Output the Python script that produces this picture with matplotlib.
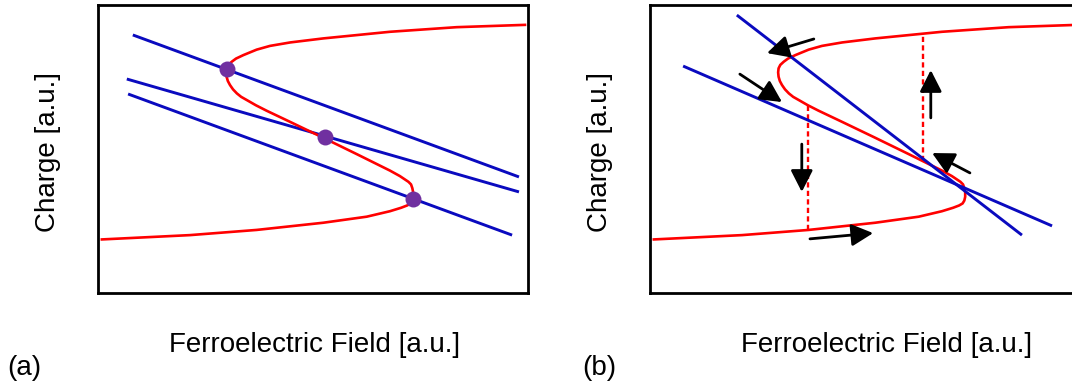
import matplotlib
matplotlib.use("Agg")
import matplotlib.pyplot as plt

plt.rcParams['font.family'] = ['Liberation Sans', 'DejaVu Sans']

# Ferroelectric S-shaped charge-field curve (field, charge), arbitrary units
curve_field = [9.93, 8.34, 6.79, 5.24, 4.47, 4.00, 3.69, 3.38, 3.21, 3.11, 3.03,
               2.99, 2.98, 2.99, 3.02, 3.07, 3.14, 3.23, 3.33, 3.46, 3.67, 3.92,
               4.47, 5.21, 6.02, 6.79, 7.02, 7.14, 7.22, 7.28, 7.31, 7.33, 7.33,
               7.31, 7.27, 7.19, 7.05, 6.79, 6.25, 5.24, 3.69, 2.14, 0.09]
curve_charge = [9.31, 9.23, 9.07, 8.84, 8.70, 8.58, 8.45, 8.26, 8.14, 8.03, 7.92,
                7.80, 7.66, 7.51, 7.36, 7.22, 7.07, 6.93, 6.81, 6.70, 6.52, 6.33,
                5.94, 5.41, 4.82, 4.25, 4.06, 3.94, 3.86, 3.77, 3.64, 3.49, 3.34,
                3.21, 3.11, 3.04, 2.96, 2.84, 2.65, 2.44, 2.19, 2.01, 1.86]

# (a) load lines: start/end field and charge
load_a_field = [(0.81, 9.79), (0.67, 9.79), (0.70, 9.63)]
load_a_charge = [(8.96, 4.03), (7.43, 3.51), (6.91, 2.01)]
# (a) operating points
op_field = [3.00, 5.28, 7.33]
op_charge = [7.78, 5.42, 3.26]

# (b) load lines
load_b_field = [(2.02, 8.65), (0.77, 9.35)]
load_b_charge = [(9.65, 2.01), (7.88, 2.33)]
# (b) switching jumps: field, charge from, charge to
jump_field = [3.67, 6.35]
jump_lo = [2.19, 4.58]
jump_hi = [6.52, 8.96]
# (b) sweep direction arrows: tail -> tip
arrow_tail = [(3.81, 8.82), (2.09, 7.60), (3.53, 5.17), (3.72, 1.88), (6.53, 6.08), (7.44, 4.17)]
arrow_tip = [(2.72, 8.33), (3.07, 6.63), (3.53, 3.51), (5.19, 2.08), (6.53, 7.74), (6.56, 4.86)]

xlabel = "Ferroelectric Field [a.u.]"
ylabel = "Charge [a.u.]"
panel_tags = ["(a)", "(b)"]

RED = "#FF0000"
BLUE = "#0A0ABF"
PURPLE = "#7030A0"

W, H = 1072, 390
fig = plt.figure(figsize=(W / 100, H / 100), dpi=100)

def make_axes(left_px):
    ax = fig.add_axes([left_px / W, (H - 293) / H, 430 / W, 288 / H])
    ax.set_xlim(0, 10)
    ax.set_ylim(0, 10)
    ax.set_xticks([])
    ax.set_yticks([])
    for s in ax.spines.values():
        s.set_linewidth(2.0)
        s.set_color("black")
    return ax

ax_a = make_axes(98)
ax_b = make_axes(650)

# panel (a)
for fx, cy in zip(load_a_field, load_a_charge):
    ax_a.plot(fx, cy, color=BLUE, lw=2.1, solid_capstyle="butt")
ax_a.plot(curve_field, curve_charge, color=RED, lw=1.9, solid_joinstyle="round")
ax_a.plot(op_field, op_charge, "o", color=PURPLE, ms=11.5, mec="none", zorder=5)

# panel (b)
ax_b.plot(curve_field, curve_charge, color=RED, lw=1.9, solid_joinstyle="round")
for fx, lo, hi in zip(jump_field, jump_lo, jump_hi):
    ax_b.plot([fx, fx], [lo, hi], color=RED, lw=1.7, ls=(0, (2.2, 1.4)))
for fx, cy in zip(load_b_field, load_b_charge):
    ax_b.plot(fx, cy, color=BLUE, lw=2.1, solid_capstyle="butt")
for tail, tip in zip(arrow_tail, arrow_tip):
    ax_b.annotate("", xy=tip, xytext=tail,
                  arrowprops=dict(arrowstyle="-|>,head_length=0.55,head_width=0.28",
                                  mutation_scale=24, lw=2.0, color="black",
                                  shrinkA=0, shrinkB=0))

# labels
fs = 20
for cx, ylx in [(314.5, 48), (887, 600)]:
    fig.text(cx / W, (H - 352) / H, xlabel, ha="center", va="baseline", fontsize=fs)
    fig.text(ylx / W, (H - 152) / H, ylabel, ha="center", va="center",
             rotation=90, fontsize=fs)
for tag, tagx in zip(panel_tags, [7, 582]):
    fig.text(tagx / W, (H - 375) / H, tag, ha="left", va="baseline", fontsize=fs)

fig.savefig("out.png", dpi=100)
